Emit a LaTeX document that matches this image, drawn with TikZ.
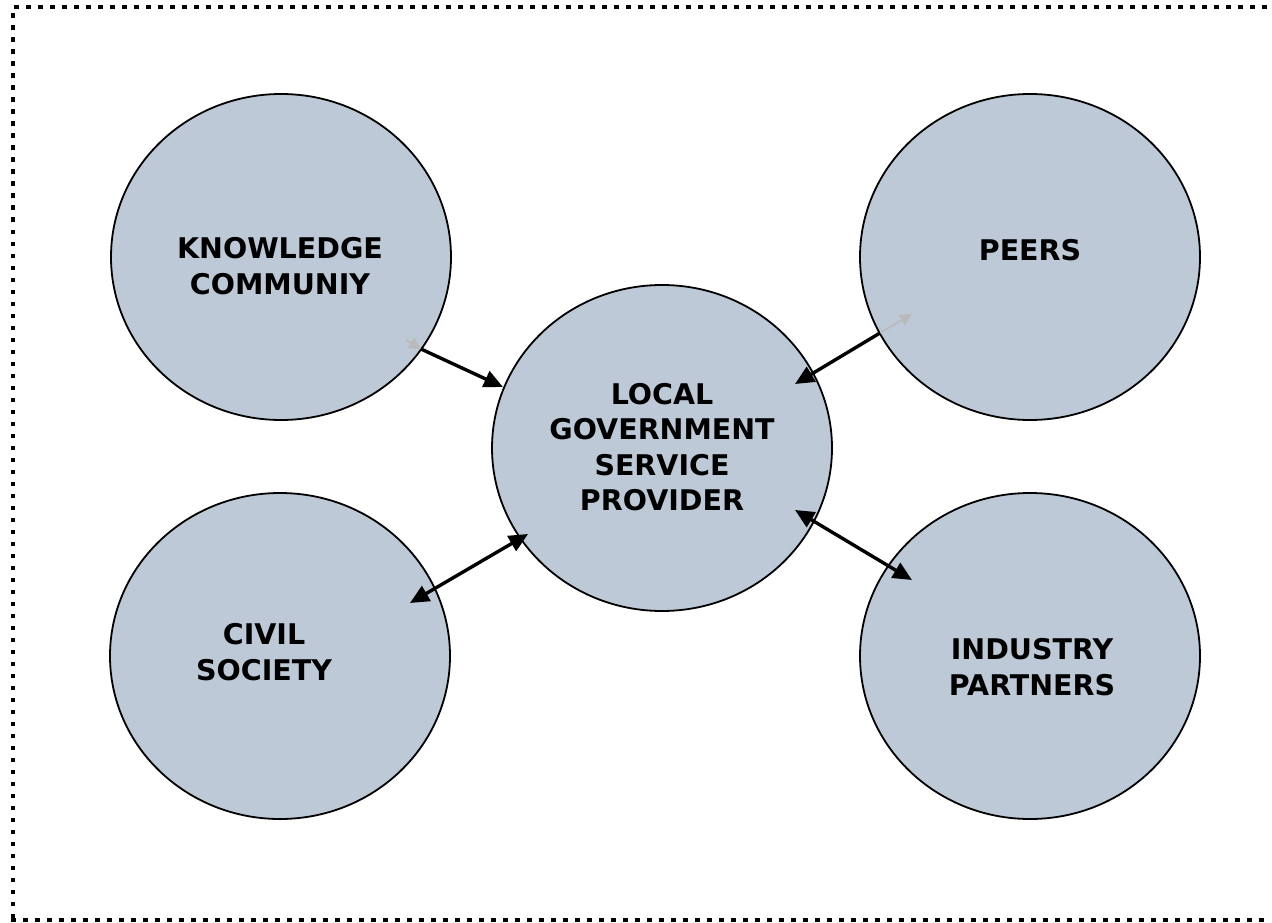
\documentclass[tikz,border=0pt]{standalone}
\usepackage{fontspec}
\setmainfont{DejaVu Sans}
\usetikzlibrary{shapes.geometric,arrows.meta,calc}
\definecolor{bubble}{RGB}{190,201,215}
\tikzset{
  bubble/.style={ellipse, draw=black, line width=1.8pt, fill=bubble,
    minimum width=340pt, minimum height=326pt, inner sep=0pt},
  label/.style={font=\fontsize{28.5}{35.5}\selectfont\bfseries, align=center},
  tip/.style={Triangle[length=19pt,width=17pt]},
  link/.style={line width=3.4pt, -{Triangle[length=19pt,width=17pt]}},
  duallink/.style={line width=3.4pt, {Triangle[length=19pt,width=17pt]}-{Triangle[length=19pt,width=17pt]}},
  ghost/.style={line width=1.5pt, draw=gray!55, -{Triangle[length=12pt,width=12pt]}, fill=gray!55},
  frame/.style={line width=4.5pt, dash pattern=on 4.5pt off 7.5pt, line cap=butt}
}
\begin{document}
\begin{tikzpicture}[x=1pt,y=-1pt]
  \useasboundingbox (0,0) rectangle (1272,923);
  % dotted page frame
  \draw[frame] (13,918) -- (13,7) -- (1272,7);
  \draw[frame] (11,920) -- (1268,920);

  % the five bubbles
  \node[bubble] (kc) at (281,257) {};
  \node[bubble] (pe) at (1030,257) {};
  \node[bubble] (lg) at (662,448) {};
  \node[bubble] (cs) at (280,656) {};
  \node[bubble] (ip) at (1030,656) {};

  % labels
  \node[label] (kct) at (280,266) {KNOWLEDGE\\COMMUNIY};
  \node[label] (pet) at (1030,250) {PEERS};
  \node[label] (lgt) at (662,447) {LOCAL\\GOVERNMENT\\SERVICE\\PROVIDER};
  \node[label] (cst) at (264,652) {CIVIL\\SOCIETY};
  \node[label] (ipt) at (1032,667) {INDUSTRY\\PARTNERS};

  % connector end points
  \coordinate (k1) at ($(kc)+(140,92)$);
  \coordinate (k2) at ($(lg)+(-159,-61)$);
  \coordinate (p1) at ($(pe)+(-150,76)$);
  \coordinate (p2) at ($(lg)+(133,-64)$);
  \coordinate (c1) at ($(cs)+(130,-53)$);
  \coordinate (c2) at ($(lg)+(-134,86)$);
  \coordinate (i1) at ($(lg)+(133,62)$);
  \coordinate (i2) at ($(ip)+(-118,-76)$);

  % faint tips left inside the outer bubbles
  \coordinate (kg) at ($(kc)+(125,83)$);
  \coordinate (kg2) at ($(kc)+(140,92)$);
  \coordinate (pg) at ($(pe)+(-150,76)$);
  \coordinate (pg2) at ($(pe)+(-118,57)$);
  \draw[ghost] (kg) -- (kg2);
  \draw[ghost] (pg) -- (pg2);

  % connectors
  \draw[link] (k1) -- (k2);
  \draw[link] (p1) -- (p2);
  \draw[duallink] (c1) -- (c2);
  \draw[duallink] (i1) -- (i2);
\end{tikzpicture}
\end{document}
